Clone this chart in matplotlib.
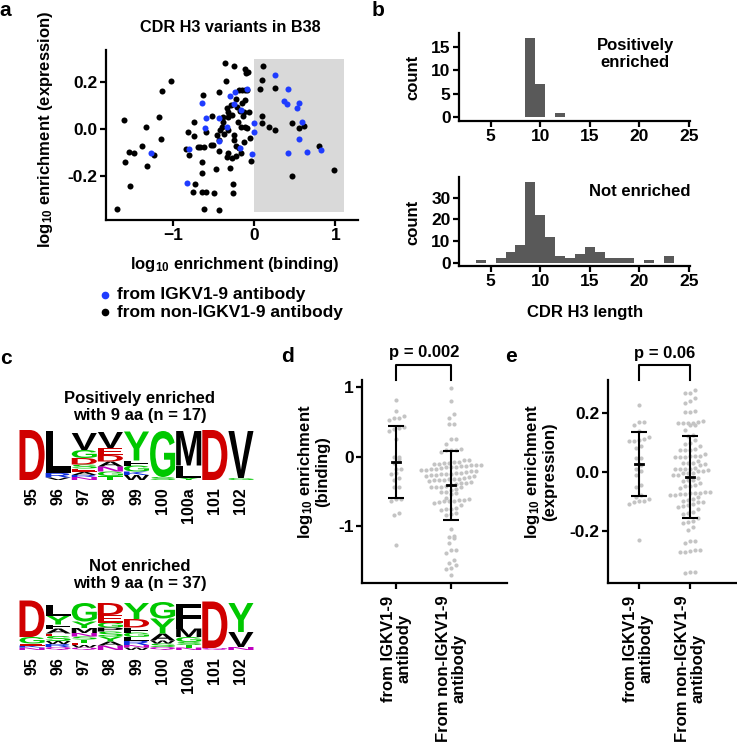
import numpy as np
import matplotlib
matplotlib.use("Agg")
import matplotlib.pyplot as plt
from matplotlib.textpath import TextPath
from matplotlib.patches import PathPatch, Rectangle
from matplotlib.font_manager import FontProperties
from matplotlib.transforms import Affine2D

plt.rcParams.update({
    "font.family": "Liberation Sans",
    "font.weight": "bold",
    "axes.labelweight": "bold",
    "mathtext.fontset": "custom",
    "mathtext.rm": "Liberation Sans:bold",
    "mathtext.default": "rm",
    "axes.linewidth": 1.6,
    "xtick.major.width": 1.6,
    "ytick.major.width": 1.6,
    "xtick.major.size": 4,
    "ytick.major.size": 4,
})

# ---- panel a: log10 enrichment, binding vs expression ----
bind_igkv = [-0.64, -0.60, -0.61, -0.43, -0.43, -0.80, -0.83, -0.34, -0.30, -0.24,
             -0.25, -0.17, -0.09, -0.18, -0.03, 0.00, 0.00, 0.26, 0.41, 0.37,
             0.40, 0.55, 0.53, 0.59, 0.55, 0.42, 0.65, 0.82, -1.27]
expr_igkv = [0.111, 0.047, 0.004, 0.047, -0.052, -0.087, -0.231, 0.009, 0.140, 0.159,
             0.105, 0.081, 0.170, -0.079, -0.108, 0.024, -0.011, 0.230, 0.170, 0.121,
             0.106, 0.109, 0.089, 0.028, -0.044, -0.104, -0.098, -0.091, -0.100]

bind_other = [-1.69, -1.61, -1.53, -1.60, -1.55, -1.48, -1.38, -1.34, -1.33, -1.24,
              -1.17, -1.15, -1.14, -1.03, -0.84, -0.82, -0.80, -0.75, -0.75, -0.73,
              -0.76, -0.69, -0.67, -0.65, -0.64, -0.64, -0.60, -0.62, -0.63, -0.62,
              -0.59, -0.54, -0.51, -0.52, -0.50, -0.47, -0.44, -0.43, -0.43, -0.43,
              -0.46, -0.42, -0.40, -0.39, -0.38, -0.36, -0.35, -0.34, -0.33, -0.34,
              -0.32, -0.32, -0.32, -0.30, -0.28, -0.26, -0.26, -0.25, -0.25, -0.25,
              -0.23, -0.23, -0.22, -0.21, -0.20, -0.19, -0.18, -0.17, -0.16, -0.15,
              -0.15, -0.14, -0.13, -0.13, -0.12, -0.12, -0.11, -0.10, -0.09, -0.08,
              -0.07, -0.05, -0.04, -0.12, -0.09, 0.11, 0.09, 0.07, 0.09, 0.10,
              0.18, 0.25, 0.25, 0.47, 0.47, 0.55, 0.61, 0.80, 0.98,
              -0.37, -0.27, -0.19, -0.29]
expr_other = [-0.340, 0.038, -0.243, -0.139, -0.096, -0.100, -0.072, 0.010, -0.156, -0.112,
              0.052, -0.043, 0.162, 0.206, -0.085, -0.011, -0.110, 0.031, -0.030, -0.234,
              -0.270, -0.075, -0.075, -0.142, -0.189, -0.267, -0.267, -0.340, 0.145, -0.078,
              -0.011, -0.068, -0.068, 0.055, -0.274, -0.170, -0.345, -0.092, 0.159, -0.047,
              -0.026, -0.004, 0.007, 0.031, 0.052, 0.279, 0.204, 0.088, -0.104, -0.120,
              0.074, 0.052, -0.004, -0.167, -0.125, -0.235, -0.274, 0.268, -0.026, -0.047,
              -0.072, -0.115, 0.126, 0.095, 0.031, 0.166, 0.077, 0.010, -0.104, 0.109,
              0.166, 0.055, 0.074, -0.054, 0.254, 0.123, 0.010, 0.237, 0.003, 0.241,
              0.074, -0.037, -0.135, 0.166, 0.166, 0.268, 0.209, 0.169, 0.055, 0.024,
              0.010, -0.004, 0.173, 0.027, -0.199, 0.003, 0.013, -0.072, -0.174,
              -0.020, 0.060, -0.080, 0.100]

# ---- panel b: CDR H3 length histograms ----
pos_len = [9, 10, 12]
pos_count = [17, 7, 1]
not_len = [4, 6, 7, 8, 9, 10, 11, 12, 13, 14, 15, 16, 17, 18, 19, 21, 23]
not_count = [1, 2, 5, 8, 37, 22, 12, 3, 2, 4, 7, 5, 2, 2, 2, 1, 3]

# ---- panel c: sequence logos (letter, relative height), bottom -> top ----
positions = ["95", "96", "97", "98", "99", "100", "100a", "101", "102"]
logo_pos = [
    [("D", 1.0)],
    [("V", 0.05), ("R", 0.09), ("L", 0.84)],
    [("N", 0.06), ("R", 0.04), ("A", 0.06), ("E", 0.07), ("S", 0.08), ("D", 0.13), ("G", 0.16), ("V", 0.34)],
    [("T", 0.08), ("G", 0.09), ("N", 0.10), ("A", 0.10), ("D", 0.13), ("E", 0.14), ("V", 0.32)],
    [("W", 0.10), ("K", 0.07), ("G", 0.12), ("F", 0.10), ("Y", 0.58)],
    [("S", 0.06), ("G", 0.92)],
    [("Y", 0.05), ("L", 0.24), ("M", 0.69)],
    [("D", 1.0)],
    [("G", 0.04), ("V", 0.94)],
]
logo_not = [
    [("N", 0.05), ("K", 0.04), ("E", 0.04), ("G", 0.13), ("D", 0.73)],
    [("Q", 0.06), ("R", 0.06), ("W", 0.06), ("S", 0.10), ("E", 0.05), ("A", 0.10), ("F", 0.08), ("Y", 0.18), ("L", 0.22)],
    [("Q", 0.05), ("W", 0.05), ("E", 0.05), ("T", 0.06), ("S", 0.06), ("N", 0.07), ("M", 0.10), ("Y", 0.13), ("G", 0.37)],
    [("N", 0.09), ("A", 0.08), ("Y", 0.10), ("S", 0.10), ("P", 0.08), ("G", 0.10), ("E", 0.15), ("D", 0.24)],
    [("W", 0.05), ("N", 0.05), ("R", 0.09), ("L", 0.07), ("G", 0.09), ("F", 0.10), ("D", 0.17), ("Y", 0.32)],
    [("Q", 0.06), ("S", 0.07), ("W", 0.06), ("A", 0.14), ("Y", 0.30), ("G", 0.33)],
    [("N", 0.05), ("T", 0.05), ("S", 0.06), ("G", 0.10), ("M", 0.17), ("F", 0.50)],
    [("Q", 0.04), ("D", 0.93)],
    [("N", 0.06), ("V", 0.30), ("Y", 0.58)],
]

# ---- panels d / e: mean and SD per group ----
groups = ["from IGKV1-9\nantibody", "From non-IGKV1-9\nantibody"]
d_mean = [-0.07, -0.41]
d_sd = [0.515, 0.495]
e_mean = [0.027, -0.018]
e_sd = [0.110, 0.140]

W, H = 737, 744
LAB = 12      # label size
TICK = 12.5   # tick label size
fig = plt.figure(figsize=(W / 100, H / 100), dpi=100)


def px_axes(x0, y0, x1, y1):
    return fig.add_axes([x0 / W, 1 - y1 / H, (x1 - x0) / W, (y1 - y0) / H])


def ftext(x, y, s, **kw):
    return fig.text(x / W, 1 - y / H, s, **kw)


def clean(ax, size=TICK):
    ax.spines[["top", "right"]].set_visible(False)
    ax.tick_params(labelsize=size, pad=2)


# panel a
ax = px_axes(106, 50, 358, 220)
ax.add_patch(Rectangle((0, -0.353), 1.11, 0.651, fc="#d9d9d9", ec="none", zorder=0))
ax.scatter(bind_other, expr_other, s=19, c="black", lw=0, zorder=2)
ax.scatter(bind_igkv, expr_igkv, s=19, c="#1f3cff", lw=0, zorder=3)
ax.set_xlim(-1.83, 1.28)
ax.set_ylim(-0.387, 0.336)
ax.set_xticks([-1, 0, 1])
ax.set_yticks([-0.2, 0.0, 0.2], ["-0.2", "0.0", "0.2"])
clean(ax)
ftext(230, 27, "CDR H3 variants in B38", ha="center", va="center", fontsize=11.7)
ftext(235, 265, "log$_{10}$ enrichment (binding)", ha="center", va="center", fontsize=LAB)
ftext(46, 129, "log$_{10}$ enrichment (expression)", ha="center", va="center",
      rotation=90, fontsize=LAB)
fig.lines.append(plt.Line2D([105 / W], [1 - 295 / H], marker="o", ms=4.5, color="#1f3cff",
                            lw=0, transform=fig.transFigure))
fig.lines.append(plt.Line2D([105 / W], [1 - 312 / H], marker="o", ms=4.5, color="black",
                            lw=0, transform=fig.transFigure))
ftext(117, 295, "from IGKV1-9 antibody", ha="left", va="center", fontsize=12.5)
ftext(117, 312, "from non-IGKV1-9 antibody", ha="left", va="center", fontsize=12.5)

# panel b
axb1 = px_axes(459, 33, 690, 121)
axb1.bar(pos_len, pos_count, width=1, color="#595959", lw=0)
axb1.set_xlim(1.81, 25.1)
axb1.set_ylim(-0.8, 18)
axb1.set_xticks([5, 10, 15, 20, 25])
axb1.set_yticks([0, 5, 10, 15])
clean(axb1)
axb2 = px_axes(459, 177, 690, 266)
axb2.bar(not_len, not_count, width=1, color="#595959", lw=0)
axb2.set_xlim(1.81, 25.1)
axb2.set_ylim(-1.6, 39.5)
axb2.set_xticks([5, 10, 15, 20, 25])
axb2.set_yticks([0, 10, 20, 30])
clean(axb2)
ftext(635, 54, "Positively\nenriched", ha="center", va="center", fontsize=LAB, linespacing=1.1)
ftext(640, 192, "Not enriched", ha="center", va="center", fontsize=LAB)
ftext(413, 77, "count", ha="center", va="center", rotation=90, fontsize=LAB)
ftext(413, 222, "count", ha="center", va="center", rotation=90, fontsize=LAB)
ftext(585, 313, "CDR H3 length", ha="center", va="center", fontsize=LAB)

# panel c
logo_font = FontProperties(family="Liberation Sans", weight="bold")
colors = {"D": "#d00000", "E": "#d00000",
          "G": "#00c800", "S": "#00c800", "T": "#00c800", "Y": "#00c800", "C": "#00c800",
          "N": "#c000c0", "Q": "#c000c0",
          "K": "#1030e0", "R": "#1030e0", "H": "#1030e0"}


def letter(ax, ch, x, y, w, h):
    tp = TextPath((0, 0), ch, size=1, prop=logo_font)
    bb = tp.get_extents()
    tr = Affine2D().translate(-bb.x0, -bb.y0).scale(w / bb.width, h / bb.height).translate(x, y)
    ax.add_patch(PathPatch(tr.transform_path(tp), fc=colors.get(ch, "black"), ec="none"))


def logo(y0, y1, stacks):
    axl = px_axes(19, y0, 254, y1)
    for i, stack in enumerate(stacks):
        base = 0.0
        for ch, h in stack:
            letter(axl, ch, i + 0.02, base, 0.96, h)
            base += h
    axl.set_xlim(0, len(stacks))
    axl.set_ylim(0, 1)
    for s in axl.spines.values():
        s.set_visible(False)
    axl.set_yticks([])
    axl.set_xticks(np.arange(len(stacks)) + 0.5, positions, rotation=90, va="top", ha="center")
    axl.tick_params(axis="x", length=0, pad=5, labelsize=11.5)


logo(430, 480, logo_pos)
logo(600, 650, logo_not)
ftext(140, 407, "Positively enriched\nwith 9 aa (n = 17)", ha="center", va="center",
      fontsize=LAB, linespacing=1.2)
ftext(140, 575, "Not enriched\nwith 9 aa (n = 37)", ha="center", va="center",
      fontsize=LAB, linespacing=1.2)


# panels d and e
def swarm(values, ppu, d=5.5, dx=5.0):
    v = np.asarray(values, dtype=float)
    order = np.argsort(v)
    sv = v[order]
    offs = np.zeros(len(sv))
    i = 0
    while i < len(sv):
        j = i
        while j + 1 < len(sv) and (sv[j + 1] - sv[i]) * ppu < d:
            j += 1
        n = j - i + 1
        offs[i:j + 1] = (np.arange(n) - (n - 1) / 2) * dx
        i = j + 1
    out = np.empty(len(sv))
    out[order] = offs
    return out


def dot_panel(box, data, means, sds, xlim, ylim, yticks, ytl, p_text, ylabel, ylab_x):
    x0, y0, x1, y1 = box
    axp = px_axes(x0, y0, x1, y1)
    ppx = (x1 - x0) / (xlim[1] - xlim[0])
    ppy = (y1 - y0) / (ylim[1] - ylim[0])
    for k, vals in enumerate(data):
        off = swarm(vals, ppy)
        axp.scatter(k + off / ppx, vals, s=9, c="#c4c4c4", lw=0, zorder=1)
        axp.errorbar(k, means[k], yerr=sds[k], fmt="none", ecolor="black", elinewidth=1.5,
                     capsize=6, capthick=1.5, zorder=3)
        axp.plot([k - 4 / ppx, k + 4 / ppx], [means[k], means[k]], color="black", lw=2, zorder=3)
    axp.set_xlim(*xlim)
    axp.set_ylim(*ylim)
    axp.set_yticks(yticks, ytl)
    axp.set_xticks([0, 1], groups, rotation=90, va="top", ha="center", multialignment="center",
                   linespacing=1.05)
    clean(axp)
    axp.tick_params(axis="x", labelsize=LAB, pad=5)
    # significance bracket
    yb = ylim[1] + 15 / ppy
    axp.plot([0, 0, 1, 1], [ylim[1], yb, yb, ylim[1]], color="black", lw=1.5, clip_on=False)
    axp.text(0.5, yb + 12 / ppy, p_text, ha="center", va="center", fontsize=LAB)
    ftext(ylab_x, 472, ylabel, ha="center", va="center", rotation=90, fontsize=LAB,
          linespacing=1.0)
    return axp


dot_panel((362, 380, 507, 583), [bind_igkv, bind_other], d_mean, d_sd,
          (-0.63, 2.02), (-1.81, 1.1), [-1, 0, 1], ["-1", "0", "1"], "p = 0.002",
          "log$_{10}$ enrichment\n(binding)", 313)
dot_panel((608, 380, 737, 583), [expr_igkv, expr_other], e_mean, e_sd,
          (-0.59, 1.90), (-0.379, 0.314), [-0.2, 0.0, 0.2], ["-0.2", "0.0", "0.2"], "p = 0.06",
          "log$_{10}$ enrichment\n(expression)", 540)

# panel letters
for s, x, y in [("a", 5, 10), ("b", 378, 10), ("c", 6, 358), ("d", 287, 356), ("e", 511, 357)]:
    ftext(x, y, s, ha="center", va="center", fontsize=15)

fig.savefig("out.png", dpi=100)
